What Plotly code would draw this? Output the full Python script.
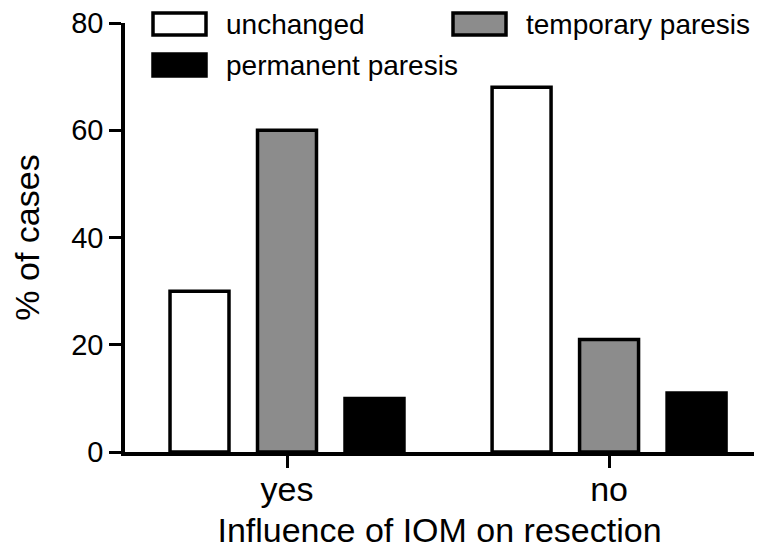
import plotly.graph_objects as go

##########################
# data
##########################

categories = ['yes', 'no']
series_names = ['unchanged', 'temporary paresis', 'permanent paresis']
unchanged = [30, 68]
temporary_paresis = [60, 21]
permanent_paresis = [10, 11]

y_ticks = [0, 20, 40, 60, 80]

fill_colors = ['white', '#8c8c8c', 'black']
font_family = 'Liberation Sans, Arial, sans-serif'

# the page body adds an 8px margin on every side; keep the figure inside the window
PAGE_PAD = 8
W, H = 762 - 2 * PAGE_PAD, 557 - 2 * PAGE_PAD
margin_l, margin_r, margin_t, margin_b = 125 - PAGE_PAD, 0, 23 - PAGE_PAD, H - (452 - PAGE_PAD)


def to_paper(px, py):
    # pixel position in the window -> paper coordinates of the plot area
    plot_w = W - margin_l - margin_r
    plot_h = H - margin_t - margin_b
    return (px - PAGE_PAD - margin_l) / plot_w, (H - margin_b - (py - PAGE_PAD)) / plot_h


fig = go.Figure()

for name, values, color in zip(series_names,
                               [unchanged, temporary_paresis, permanent_paresis],
                               fill_colors):
    fig.add_trace(
        go.Bar(
            x=categories,
            y=values,
            name=name,
            marker=dict(color=color, line=dict(color='black', width=3.5)),
            showlegend=False,
            hovertemplate='<b>%{x}</b><br>' + name + ': %{y}%<extra></extra>'
        )
    )

# legend drawn by hand so the swatches are as large as in the original
legend_pos = [(153, 13), (453, 13), (153, 54)]
shapes = []
annotations = []
for (lx, ly), name, color in zip(legend_pos, series_names, fill_colors):
    x0, y0 = to_paper(lx, ly + 22)
    x1, y1 = to_paper(lx + 53, ly)
    shapes.append(dict(type='rect', xref='paper', yref='paper',
                       x0=x0, y0=y0, x1=x1, y1=y1,
                       fillcolor=color, line=dict(color='black', width=3.5)))
    tx, ty = to_paper(lx + 71, ly + 11)
    annotations.append(dict(text=name, xref='paper', yref='paper',
                            x=tx, y=ty, xanchor='left', yanchor='middle',
                            showarrow=False,
                            font=dict(size=28, color='black', family=font_family)))

fig.update_layout(
    width=W, height=H,
    margin=dict(l=margin_l, r=margin_r, t=margin_t, b=margin_b),
    paper_bgcolor='white', plot_bgcolor='white',
    barmode='group', bargap=0.185, bargroupgap=0.326,
    font=dict(family=font_family, color='black'),
    shapes=shapes, annotations=annotations,
    showlegend=False
)

fig.update_xaxes(
    range=[-0.503, 1.45], automargin=False,
    showline=True, linecolor='black', linewidth=3.5,
    ticks='outside', ticklen=12, tickwidth=3, tickcolor='black',
    tickfont=dict(size=34), ticklabelstandoff=-8, ticklabeloverflow='allow',
    showgrid=False, zeroline=False,
    title=dict(text='Influence of IOM on resection', font=dict(size=34), standoff=20)
)

fig.update_yaxes(
    range=[0, 80], tickvals=y_ticks, automargin=False,
    showline=True, linecolor='black', linewidth=3.5,
    ticks='outside', ticklen=12, tickwidth=3, tickcolor='black',
    tickfont=dict(size=29), ticklabeloverflow='allow',
    showgrid=False, zeroline=False,
    title=dict(text='% of cases', font=dict(size=34), standoff=23)
)

fig.write_html("out.html")
